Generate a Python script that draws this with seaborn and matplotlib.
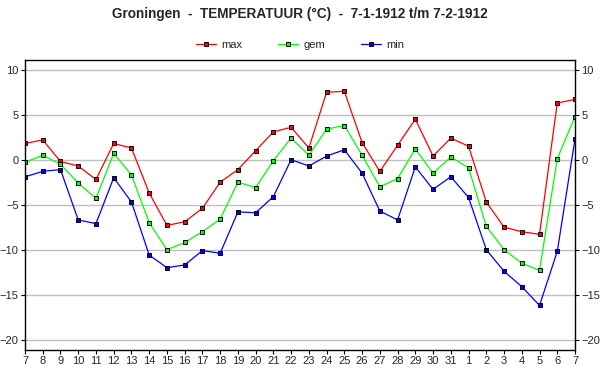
import matplotlib
matplotlib.use("Agg")
import matplotlib.pyplot as plt
import seaborn as sns
import pandas as pd
import numpy as np

days = ["7", "8", "9", "10", "11", "12", "13", "14", "15", "16", "17", "18", "19", "20",
        "21", "22", "23", "24", "25", "26", "27", "28", "29", "30", "31",
        "1", "2", "3", "4", "5", "6", "7"]
t_max = [1.8, 2.2, -0.2, -0.7, -2.2, 1.8, 1.3, -3.7, -7.3, -6.9, -5.4, -2.5, -1.1, 1.0,
         3.1, 3.6, 1.3, 7.5, 7.6, 1.9, -1.3, 1.6, 4.5, 0.4, 2.4,
         1.5, -4.7, -7.5, -8.0, -8.3, 6.3, 6.7]
t_gem = [-0.3, 0.5, -0.5, -2.6, -4.3, 0.7, -1.7, -7.0, -10.0, -9.2, -8.0, -6.6, -2.5, -3.1,
         -0.1, 2.4, 0.5, 3.4, 3.8, 0.5, -3.0, -2.1, 1.2, -1.5, 0.3,
         -0.9, -7.4, -10.0, -11.5, -12.3, 0.1, 4.8]
t_min = [-1.9, -1.3, -1.1, -6.7, -7.1, -2.0, -4.7, -10.6, -12.0, -11.7, -10.1, -10.4, -5.8, -5.9,
         -4.1, 0.0, -0.7, 0.4, 1.1, -1.5, -5.7, -6.7, -0.8, -3.3, -1.9,
         -4.2, -10.0, -12.4, -14.1, -16.2, -10.2, 2.3]
series = ["max", "gem", "min"]
colors = {"max": "#ff0000", "gem": "#00ff00", "min": "#0000ff"}

idx = list(range(len(days)))
df = pd.concat([
    pd.DataFrame({"i": idx, "T": t_max, "s": "max"}),
    pd.DataFrame({"i": idx, "T": t_gem, "s": "gem"}),
    pd.DataFrame({"i": idx, "T": t_min, "s": "min"}),
])

sns.set_theme(style="white")
plt.rcParams["font.family"] = ["Liberation Sans", "DejaVu Sans"]

fig = plt.figure(figsize=(6, 3.9), dpi=100)
ax = fig.add_axes([25/600, 1-350/390, 550/600, 290/390])

for s in series:
    d = df[df["s"] == s]
    sns.lineplot(data=d, x="i", y="T", ax=ax, color=colors[s], lw=0.9,
                 marker="s", markersize=3.3, markeredgecolor="black",
                 markeredgewidth=0.7, markerfacecolor=colors[s], label=s)

ax.set_xlim(0, len(days) - 1)
ax.set_ylim(-21.15, 11.08)
ax.set_xticks(idx)
ax.set_xticklabels(days)
ax.set_yticks([-20, -15, -10, -5, 0, 5, 10])
ax.set_xlabel("")
ax.set_ylabel("")
ax.yaxis.grid(True, color="#c0c0c0", lw=1.0)
ax.set_axisbelow(True)
for sp in ax.spines.values():
    sp.set_color("black")
    sp.set_linewidth(1.0)
ax.tick_params(axis="both", which="both", direction="out", length=3, width=0.8,
               color="black", labelsize=8, pad=1.5)
ax.tick_params(axis="y", left=True, right=True, labelleft=True, labelright=True)
ax.tick_params(axis="x", bottom=True)

ax.legend(loc="center", bbox_to_anchor=(0.5, (390-45)/390), bbox_transform=fig.transFigure,
          ncol=3, frameon=False, fontsize=8, handlelength=1.8, columnspacing=3.2,
          handletextpad=0.5)

fig.text(0.5, 1-14/390, "Groningen  -  TEMPERATUUR (°C)  -  7-1-1912 t/m 7-2-1912",
         ha="center", va="center", fontsize=9.8, fontweight="bold")

fig.savefig("out.png", dpi=100)
